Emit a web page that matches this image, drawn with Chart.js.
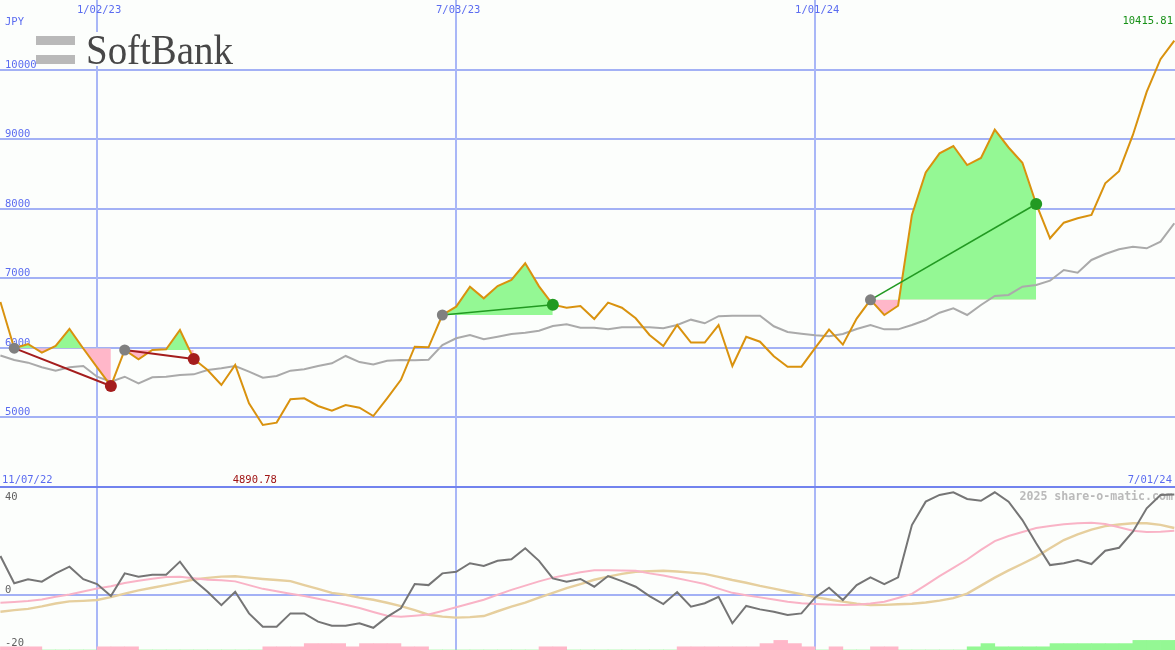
<!DOCTYPE html>
<html><head><meta charset="utf-8">
<script src="https://cdn.jsdelivr.net/npm/chart.js@4.4.1/dist/chart.umd.min.js"></script>
<style>
html,body{margin:0;padding:0;background:#fcfefc;}
#wrap{position:relative;width:1175px;height:650px;overflow:hidden;background:#fcfefc;}
#top{position:absolute;left:0;top:0;}
#bot{position:absolute;left:0;top:486px;}
</style></head><body>
<div id="wrap"><canvas id="top" width="1175" height="486"></canvas><canvas id="bot" width="1175" height="164"></canvas></div>
<script>
// ---------- data (weekly closes, 86 weeks) ----------
const price = [6660,5995,6055,5930,6027,6271,5990,5720,5452,5969,
 5835,5969,5979,6257,5840,5682,5466,5753,5203,4890.78,
 4925,5260,5274,5164,5097,5178,5140,5020,5275,5540,
 6017,6008,6472,6592,6879,6712,6889,6975,7215,6884,
 6620,6577,6601,6415,6650,6577,6425,6185,6027,6328,
 6075,6075,6328,5739,6160,6088,5880,5729,5729,6000,
 6262,6046,6420,6690,6472,6605,7910,8520,8796,8901,
 8628,8730,9135,8880,8660,8068,7575,7799,7862,7910,
 8365,8540,9060,9680,10150,10415.81];
const movingAvg = [5890,5825,5787,5720,5672,5720,5739,5585,5514,5585,
 5490,5576,5585,5610,5619,5682,5706,5739,5658,5571,
 5596,5672,5692,5739,5778,5883,5795,5760,5815,5825,
 5820,5830,6041,6137,6185,6123,6160,6199,6218,6247,
 6314,6338,6290,6290,6267,6295,6295,6295,6281,6328,
 6405,6353,6455,6462,6462,6462,6310,6228,6204,6180,
 6165,6199,6271,6328,6266,6266,6328,6400,6505,6568,
 6472,6616,6745,6760,6879,6903,6965,7119,7080,7263,
 7349,7416,7454,7431,7526,7790];
const oscFast = [14.5,4.3,5.8,4.9,8.0,10.5,5.8,4.0,-0.5,8.0,
 6.7,7.5,7.5,12.4,5.5,1.1,-3.9,1.1,-7.0,-12.0,
 -12.0,-7.0,-7.0,-10.1,-11.6,-11.6,-10.7,-12.4,-8.3,-5.1,
 4.0,3.6,8.0,8.6,11.8,10.8,12.7,13.3,17.4,12.7,
 6.1,4.9,5.9,3.0,7.0,5.1,3.0,-0.5,-3.5,1.0,
 -4.5,-3.2,-0.8,-10.7,-4.2,-5.5,-6.4,-7.6,-7.0,-1.0,
 2.6,-2.0,3.6,6.5,4.0,6.5,26.1,34.9,37.4,38.4,
 35.9,35.2,38.4,34.9,28.0,19.3,11.1,11.8,13.0,11.5,
 16.5,17.6,23.6,32.4,37.4,37.6];
const oscPinkAvg = [-3.0,-2.7,-2.4,-1.8,-0.8,0.1,1.2,2.3,3.2,4.4,
 5.2,6.0,6.6,6.7,6.2,5.6,5.4,5.0,3.6,2.2,
 1.3,0.4,-0.5,-1.5,-2.6,-3.8,-5.0,-6.5,-7.9,-8.3,
 -7.9,-7.4,-6.1,-4.7,-3.3,-1.9,0.0,1.8,3.4,5.0,
 6.4,7.4,8.4,9.2,9.2,9.1,9.0,8.0,7.2,6.2,
 5.1,4.0,2.3,0.7,-0.2,-1.0,-1.8,-2.6,-3.2,-3.5,
 -3.7,-3.9,-3.8,-3.3,-2.6,-1.2,0.3,3.6,7.0,10.1,
 13.2,16.8,20.1,22.0,23.5,25.0,25.8,26.4,26.8,27.0,
 26.5,25.3,24.0,23.5,23.6,24.0];
const oscTanAvg = [-6.4,-5.8,-5.3,-4.4,-3.3,-2.5,-2.3,-2.0,-0.9,0.4,
 1.6,2.6,3.6,4.6,5.7,6.3,6.8,6.9,6.4,5.9,
 5.5,5.1,3.6,2.2,0.7,0.0,-1.1,-1.9,-3.0,-4.3,
 -5.8,-7.5,-8.2,-8.6,-8.4,-8.0,-6.2,-4.5,-3.0,-1.1,
 0.7,2.5,4.0,5.6,6.8,7.8,8.6,8.8,9.0,8.7,
 8.3,7.8,6.7,5.5,4.5,3.3,2.3,1.2,0.2,-0.9,
 -1.8,-2.6,-3.4,-3.9,-3.8,-3.6,-3.4,-2.9,-2.2,-1.3,
 0.4,3.4,6.4,9.1,11.6,14.2,17.4,20.5,22.6,24.4,
 25.7,26.3,26.8,26.8,26.2,25.0];
const signalBars = [-1,-1,-1,0,0,0,0,-1,-1,-1,
 0,0,0,0,0,0,0,0,0,-1,
 -1,-1,-2,-2,-2,-1,-2,-2,-2,-1,
 -1,0,0,0,0,0,0,0,0,-1,
 -1,0,0,0,0,0,0,0,0,-1,
 -1,-1,-1,-1,-1,-2,-3,-2,-1,0,
 -1,0,0,-1,-1,0,0,0,0,0,
 1,2,1,1,1,1,2,2,2,2,
 2,2,3,3,3,3];
const buyWeeks = [2, 10, 33, 64];
const sellWeeks = [9, 15, 41, 76];
const priceTicks = [10000, 9000, 8000, 7000, 6000, 5000];
const oscTicks = [40, 0, -20];
const dateTickLabels = ['1/02/23', '7/03/23', '1/01/24'];
const dateTickWeeks = [8, 34, 60];
const startLabel = '11/07/22';
const endLabel = '7/01/24';
const currency = 'JPY';
const brand = 'SoftBank';
const credit = '2025 share-o-matic.com';

// ---------- styling ----------
const C = {bg:'#fcfefc', grid:'#a3b1f5', vgrid:'#a9b7f7', sep:'#7283ee', label:'#5b6cf0',
  price:'#d9920e', ma:'#aaaaaa', gain:'#94f894', loss:'#ffb7c9', win:'#229a22', lose:'#a41d1d',
  buy:'#808080', osc:'#757575', oscPink:'#f9b3c6', oscTan:'#e6cf9e', tick2:'#5f5f5f',
  credit:'#bababa', maxc:'#169016', minc:'#a01515', logoBar:'#b9b9b9', logoText:'#474747'};
const XMIN = 0.97, XMAX = 86.05;
const weekIndex = price.map((_, i) => i + 1);
const pts = arr => arr.map((v, i) => ({x: weekIndex[i], y: v}));
const MONO = '"DejaVu Sans Mono", monospace';

const baseOpts = (yScale, extraScales) => ({
  responsive:false, animation:false, maintainAspectRatio:false,
  layout:{padding:0, autoPadding:false},
  plugins:{legend:{display:false}, tooltip:{enabled:false}},
  elements:{point:{radius:0}, line:{tension:0}},
  scales:Object.assign({x:{type:'linear', min:XMIN, max:XMAX, offset:false, display:false}, y:yScale}, extraScales||{})
});

// ---------- upper chart ----------
const tradeDatasets = [];
buyWeeks.forEach((bw, t) => {
  const sw = sellWeeks[t];
  const bp = price[bw - 1], sp = price[sw - 1];
  const won = sp > bp;
  const seg = [];
  for (let w = bw; w <= sw; w++) seg.push({x: w, y: price[w - 1]});
  tradeDatasets.push({type:'line', data:seg, borderWidth:0, pointRadius:0, order:10,
    fill:{target:{value:bp}, above:C.gain, below:C.loss}});
  tradeDatasets.push({type:'line', data:[{x:bw, y:bp}, {x:sw, y:sp}], borderColor: won ? C.win : C.lose,
    borderWidth: won ? 1.6 : 2, pointRadius:0, fill:false, order:2});
  tradeDatasets.push({type:'scatter', data:[{x:sw, y:sp}], pointRadius:6, pointBackgroundColor: won ? C.win : C.lose,
    pointBorderWidth:0, order:0});
  tradeDatasets.push({type:'scatter', data:[{x:bw, y:bp}], pointRadius:5.5, pointBackgroundColor:C.buy,
    pointBorderWidth:0, order:0});
});

const upperDeco = {
  id:'upperDeco',
  beforeDatasetsDraw(chart) {
    const {ctx, chartArea:a, scales:{x, y}} = chart;
    ctx.save();
    ctx.lineWidth = 2;
    ctx.strokeStyle = C.grid;
    priceTicks.forEach(v => {
      const py = Math.round(y.getPixelForValue(v));
      ctx.beginPath(); ctx.moveTo(a.left, py); ctx.lineTo(a.right, py); ctx.stroke();
    });
    ctx.strokeStyle = C.vgrid;
    dateTickWeeks.forEach(w => {
      const px = Math.round(x.getPixelForValue(w));
      ctx.beginPath(); ctx.moveTo(px, a.top); ctx.lineTo(px, a.bottom); ctx.stroke();
    });
    // logo
    ctx.fillStyle = C.bg; ctx.fillRect(33, 32, 204, 34);
    ctx.fillStyle = C.logoBar; ctx.fillRect(36, 36, 39, 9); ctx.fillRect(36, 55, 39, 9);
    ctx.fillStyle = C.logoText; ctx.font = '42px "Liberation Serif", serif';
    ctx.textAlign = 'left'; ctx.textBaseline = 'alphabetic';
    const bw = ctx.measureText(brand).width;
    ctx.save(); ctx.translate(86, 64); ctx.scale(147 / bw, 1); ctx.fillText(brand, 0, 0); ctx.restore();
    // labels
    ctx.font = '10.5px ' + MONO;
    ctx.fillStyle = C.label;
    ctx.fillText(currency, 5, 25);
    priceTicks.forEach(v => ctx.fillText(String(v), 5, Math.round(y.getPixelForValue(v)) - 2));
    ctx.textAlign = 'center';
    dateTickWeeks.forEach((w, i) => ctx.fillText(dateTickLabels[i], x.getPixelForValue(w) + 2, 13));
    ctx.textAlign = 'left'; ctx.fillText(startLabel, 2, a.bottom - 3);
    ctx.textAlign = 'right'; ctx.fillText(endLabel, a.right - 3, a.bottom - 3);
    const maxV = Math.max(...price), minV = Math.min(...price);
    ctx.fillStyle = C.maxc; ctx.textAlign = 'right';
    ctx.fillText(maxV.toFixed(2), a.right - 2, 24);
    const minW = weekIndex[price.indexOf(minV)];
    ctx.fillStyle = C.minc; ctx.textAlign = 'center';
    ctx.fillText(minV.toFixed(2), x.getPixelForValue(minW) - 8, a.bottom - 3);
    ctx.restore();
  }
};

new Chart(document.getElementById('top'), {
  data:{datasets:[
    ...tradeDatasets,
    {type:'line', data:pts(movingAvg), borderColor:C.ma, borderWidth:2, pointRadius:0, fill:false, order:4},
    {type:'line', data:pts(price), borderColor:C.price, borderWidth:2, pointRadius:0, fill:false, order:3}
  ]},
  options: baseOpts({min:4014, max:11000, display:false}),
  plugins:[upperDeco]
});

// ---------- lower chart ----------
const lowerDeco = {
  id:'lowerDeco',
  beforeDatasetsDraw(chart) {
    const {ctx, chartArea:a, scales:{x, y}} = chart;
    ctx.save();
    ctx.lineWidth = 2;
    ctx.strokeStyle = C.vgrid;
    dateTickWeeks.forEach(w => {
      const px = Math.round(x.getPixelForValue(w));
      ctx.beginPath(); ctx.moveTo(px, a.top); ctx.lineTo(px, a.bottom); ctx.stroke();
    });
    ctx.strokeStyle = C.grid;
    const z = Math.round(y.getPixelForValue(0));
    ctx.beginPath(); ctx.moveTo(a.left, z); ctx.lineTo(a.right, z); ctx.stroke();
    ctx.strokeStyle = C.sep;
    ctx.beginPath(); ctx.moveTo(a.left, 1); ctx.lineTo(a.right, 1); ctx.stroke();
    ctx.font = '10.5px ' + MONO; ctx.fillStyle = C.tick2; ctx.textAlign = 'left'; ctx.textBaseline = 'alphabetic';
    oscTicks.forEach(v => {
      const py = Math.max(Math.round(y.getPixelForValue(v)) - 2, a.top + 14);
      ctx.fillText(String(v), 5, Math.min(py, a.bottom - 4));
    });
    ctx.font = 'bold 11.6px ' + MONO; ctx.fillStyle = C.credit; ctx.textAlign = 'right';
    ctx.fillText(credit, a.right - 2, a.top + 14);
    ctx.restore();
  }
};

new Chart(document.getElementById('bot'), {
  data:{datasets:[
    {type:'bar', yAxisID:'yh', data:signalBars.map((v, i) => ({x: weekIndex[i] + 0.5, y: Math.abs(v)})),
      backgroundColor:signalBars.map(v => v >= 0 ? C.gain : C.loss), borderWidth:0,
      barPercentage:1, categoryPercentage:1, order:9},
    {type:'line', data:pts(oscTanAvg), borderColor:C.oscTan, borderWidth:2.4, pointRadius:0, fill:false, order:5},
    {type:'line', data:pts(oscPinkAvg), borderColor:C.oscPink, borderWidth:2, pointRadius:0, fill:false, order:4},
    {type:'line', data:pts(oscFast), borderColor:C.osc, borderWidth:2, pointRadius:0, fill:false, order:3}
  ]},
  options: baseOpts({min:-20.73, max:40.76, display:false}, {yh:{min:0, max:51.25, display:false}}),
  plugins:[lowerDeco]
});
</script>
</body></html>
